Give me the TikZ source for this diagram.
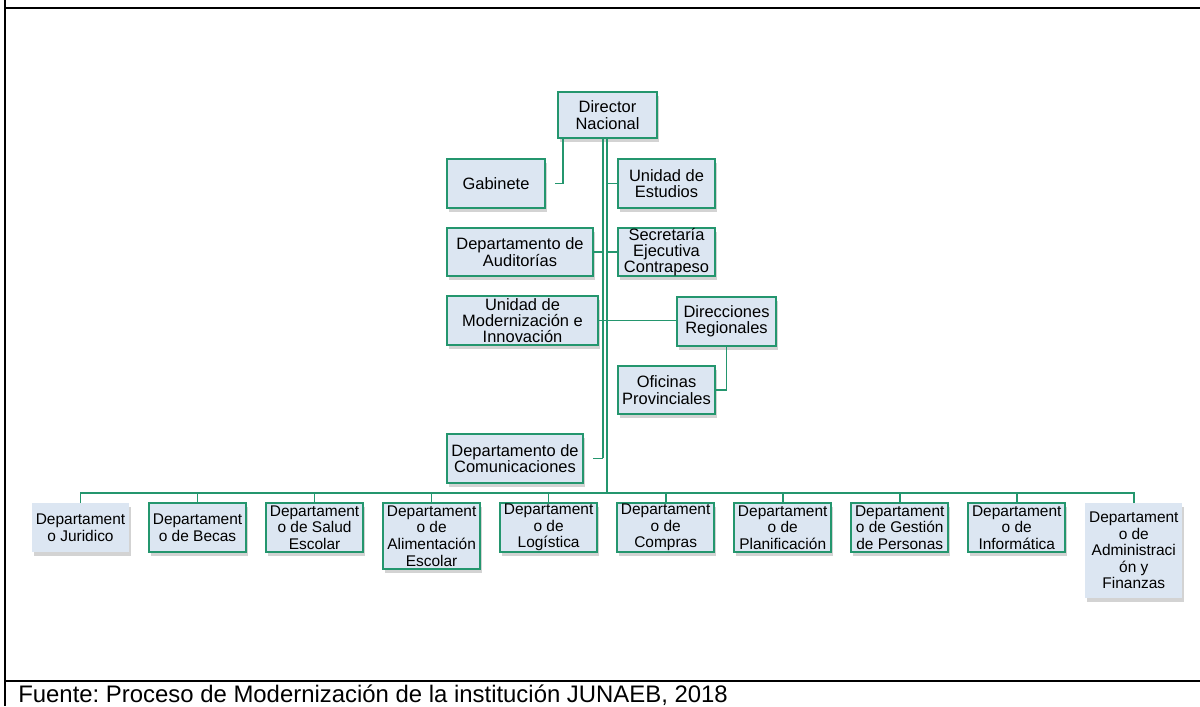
\documentclass[tikz,border=0pt]{standalone}
\usepackage{fontspec}
\setmainfont{Liberation Sans}
\usetikzlibrary{positioning, shadows}
\definecolor{orggreen}{RGB}{36,150,110}
\definecolor{orgfill}{RGB}{220,230,242}
\frenchspacing

\begin{document}
\begin{tikzpicture}[
    x=0.025cm, y=-0.025cm,
    plainbox/.style={
        rectangle,
        fill=orgfill,
        align=center,
        inner sep=0pt,
        outer sep=0pt,
        font=\fontsize{11.7}{11.6}\selectfont,
        drop shadow={shadow xshift=0.04cm, shadow yshift=-0.09cm, opacity=0.35},
    },
    orgbox/.style={
        plainbox,
        draw=orggreen,
        line width=1.6pt,
    },
    deptbox/.style={
        orgbox,
        font=\fontsize{11}{11.8}\selectfont,
        minimum width=2.425cm,
        minimum height=1.225cm,
        anchor=north west,
    },
]
\useasboundingbox (0,0) rectangle (1200,706);

% --- page frame ---
\draw [line width=1.6pt] (5,0) -- (5,706);
\draw [line width=1.6pt] (5,8) -- (1200,8);
\draw [line width=1.6pt] (5,681) -- (1200,681);

% --- head ---
\node [
    orgbox,
    minimum width=2.475cm,
    minimum height=1.15cm,
] at (607.5,115) (director) {Director\\Nacional};

% --- left column ---
\node [
    orgbox,
    anchor=west,
    minimum width=2.45cm,
    minimum height=1.225cm,
] at (447,183.5) (gabinete) {Gabinete};

\node [
    orgbox,
    below=0.5cm of gabinete.south west,
    anchor=north west,
    minimum width=3.65cm,
    minimum height=1.2cm,
] (auditorias) {Departamento de\\Auditorías};

\node [
    orgbox,
    below=0.5cm of auditorias.south west,
    anchor=north west,
    minimum width=3.775cm,
    minimum height=1.225cm,
] (modernizacion) {Unidad de\\Modernización e\\Innovación};

\node [
    orgbox,
    anchor=west,
    minimum width=3.4cm,
    minimum height=1.225cm,
] at (447,458.5) (comunicaciones) {Departamento de\\Comunicaciones};

% --- right column ---
\node [
    orgbox,
    anchor=west,
    minimum width=2.425cm,
    minimum height=1.225cm,
] at (618,183.5) (estudios) {Unidad de\\Estudios};

\node [
    orgbox,
    below=0.5cm of estudios,
    minimum width=2.425cm,
    minimum height=1.2cm,
] (secretaria) {Secretaría\\Ejecutiva\\Contrapeso};

\node [
    orgbox,
    anchor=west,
    minimum width=2.475cm,
    minimum height=1.225cm,
] at (677,321.5) (direcciones) {Direcciones\\Regionales};

\node [
    orgbox,
    anchor=west,
    minimum width=2.425cm,
    minimum height=1.2cm,
] at (618,390) (oficinas) {Oficinas\\Provinciales};

% --- departments row ---
\node [
    deptbox,
    draw=none,
] at (32,503) (juridico) {Departament\\o Juridico};

\node [
    deptbox,
    right=0.5cm of juridico.north east,
    anchor=north west,
] (becas) {Departament\\o de Becas};

\node [
    deptbox,
    right=0.5cm of becas.north east,
    anchor=north west,
] (salud) {Departament\\o de Salud\\Escolar};

\node [
    deptbox,
    right=0.5cm of salud.north east,
    anchor=north west,
    minimum height=1.65cm,
] (alimentacion) {Departament\\o de\\Alimentación\\Escolar};

\node [
    deptbox,
    right=0.5cm of alimentacion.north east,
    anchor=north west,
] (logistica) {Departament\\o de\\Logística};

\node [
    deptbox,
    right=0.5cm of logistica.north east,
    anchor=north west,
] (compras) {Departament\\o de\\Compras};

\node [
    deptbox,
    right=0.5cm of compras.north east,
    anchor=north west,
] (planificacion) {Departament\\o de\\Planificación};

\node [
    deptbox,
    right=0.5cm of planificacion.north east,
    anchor=north west,
] (gestion) {Departament\\o de Gestión\\de Personas};

\node [
    deptbox,
    right=0.5cm of gestion.north east,
    anchor=north west,
] (informatica) {Departament\\o de\\Informática};

\node [
    deptbox,
    draw=none,
    right=0.5cm of informatica.north east,
    anchor=north west,
    minimum height=2.375cm,
] (administracion) {Departament\\o de\\Administraci\\ón y\\Finanzas};

% --- source note ---
\node [
    anchor=base west,
    inner sep=0pt,
    font=\fontsize{17}{19}\selectfont,
] at (18,702) (fuente) {Fuente: Proceso de Modernización de la institución JUNAEB, 2018};

% --- connections ---
\coordinate (leftbus) at (603,458);
\coordinate (mainbus) at (607,493);

\begin{scope}[draw=orggreen, line width=1.2pt]
\draw (director.south -| leftbus) -- (leftbus);
\draw (director.south -| mainbus) -- (mainbus);

\draw [shorten >=0.25cm] ([xshift=0.125cm]director.south west) |- (gabinete.east);
\draw (auditorias.east) -- (auditorias.east -| leftbus);
\draw [shorten <=0.25cm] (comunicaciones.east) -- (comunicaciones.east -| leftbus);

\draw (estudios.west) -- (estudios.west -| mainbus);
\draw (secretaria.west) -- (secretaria.west -| mainbus);
\draw (modernizacion.east) -- (modernizacion.east -| direcciones.west);
\draw (direcciones.south) |- (oficinas.east);

\draw (juridico.north) -- (juridico.north |- mainbus) -- (administracion.north |- mainbus) -- (administracion.north);
\foreach \dept in {becas, salud, alimentacion, logistica, compras, planificacion, gestion, informatica}
    \draw (\dept.north) -- (\dept.north |- mainbus);
\end{scope}

\end{tikzpicture}
\end{document}
